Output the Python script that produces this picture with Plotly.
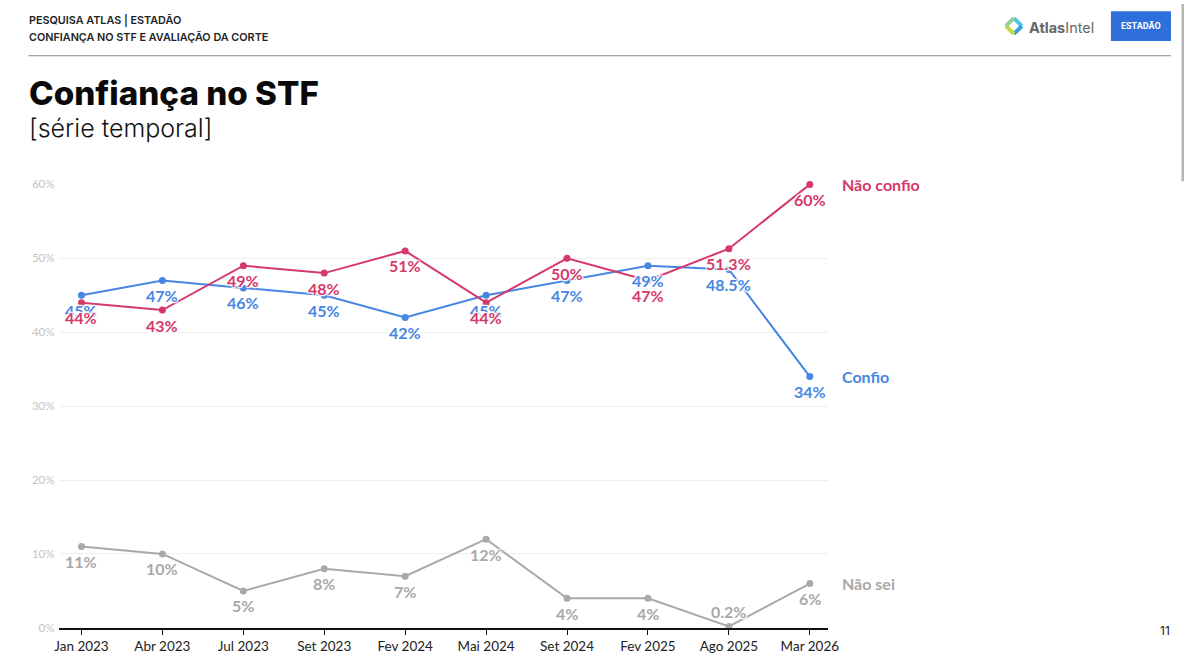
import plotly.graph_objects as go

# Figure size (page keeps an 8px body margin)
OFF = 8
W, H = 1200 - 2 * OFF, 670 - 2 * OFF
# empirical correction of the photographed page
SC, SHX, SHY = 0.982, 3.0, -1.7
AX, BX = 1.0041, -6.33
AY, BY = 0.99135, 0.476
AY2, BY2 = 0.9933, -0.76

categories = ["Jan 2023", "Abr 2023", "Jul 2023", "Set 2023", "Fev 2024",
              "Mai 2024", "Set 2024", "Fev 2025", "Ago 2025", "Mar 2026"]
confio = [45, 47, 46, 45, 42, 45, 47, 49, 48.5, 34]
nao_confio = [44, 43, 49, 48, 51, 44, 50, 47, 51.3, 60]
nao_sei = [11, 10, 5, 8, 7, 12, 4, 4, 0.2, 6]

confio_labels = ["45%", "47%", "46%", "45%", "42%", "45%", "47%", "49%", "48.5%", "34%"]
nao_confio_labels = ["44%", "43%", "49%", "48%", "51%", "44%", "50%", "47%", "51.3%", "60%"]
nao_sei_labels = ["11%", "10%", "5%", "8%", "7%", "12%", "4%", "4%", "0.2%", "6%"]
# +1: label above the point, -1: below
nao_sei_side = [-1] * 8 + [1, -1]
confio_side = [-1] * 10
nao_confio_side = [-1] * 10

RED = "#d5386a"
BLUE = "#4786e3"
GRAY = "#a9a9a9"

LABEL_FONT = "Lato, 'Source Sans Pro', sans-serif"
HALO = "1px 1px 1px #fff, -1px -1px 1px #fff, 1px -1px 1px #fff, -1px 1px 1px #fff, 0 0 3px #fff"
LABEL_GAP = 15


def old_fx(d):
    page = (d - SHX) / SC
    return (page - OFF) / W


def old_fy(d):
    page = (d - SHY) / SC
    return 1 - (page - OFF) / H


def fx(d):
    """desired displayed x pixel -> paper fraction"""
    return old_fx((d - BX) / AX)


def fy(d):
    return old_fy(((d - BY2) / AY2 - BY) / AY)


# plot area targets (displayed pixels)
PX_L, PX_R = 59, 827
PY_T, PY_B = 185, 633
JAN_X, MAR_X = 81, 809
unit = (MAR_X - JAN_X) / 9.0
x_range = [(PX_L - JAN_X) / unit, 9 + (PX_R - MAR_X) / unit]

fig = go.Figure()


def add_series(values, color, name):
    fig.add_trace(go.Scatter(
        x=categories, y=values, mode="lines+markers", name=name,
        line=dict(color=color, width=2),
        marker=dict(color=color, size=7),
        cliponaxis=False, showlegend=False, hoverinfo="skip",
    ))


def add_labels(values, labels, sides, color):
    for cat, val, lab, side in zip(categories, values, labels, sides):
        fig.add_annotation(x=cat, y=val, xref="x", yref="y", text=lab, showarrow=False,
                           xanchor="center", yanchor="middle", yshift=side * LABEL_GAP,
                           font=dict(color=color, size=16, family=LABEL_FONT, weight=700,
                                     shadow=HALO))


add_series(nao_sei, GRAY, "Não sei")
add_series(confio, BLUE, "Confio")
add_series(nao_confio, RED, "Não confio")

add_labels(nao_sei, nao_sei_labels, nao_sei_side, GRAY)
add_labels(confio, confio_labels, confio_side, BLUE)
add_labels(nao_confio, nao_confio_labels, nao_confio_side, RED)

# series names at right end
for name, val, color in [("Não confio", nao_confio[-1], RED),
                         ("Confio", confio[-1], BLUE),
                         ("Não sei", nao_sei[-1], GRAY)]:
    fig.add_annotation(x=categories[-1], y=val, xref="x", yref="y", text=name,
                       showarrow=False, xanchor="left", yanchor="middle", xshift=30,
                       font=dict(color=color, size=16, family=LABEL_FONT, weight=700))

# header texts
fig.add_annotation(x=fx(26.5), y=fy(19), xref="paper", yref="paper", text="PESQUISA ATLAS | ESTADÃO",
                   showarrow=False, xanchor="left", yanchor="middle",
                   font=dict(size=10.8, color="#222", family="Inter, sans-serif", weight=600))
fig.add_annotation(x=fx(26.5), y=fy(36), xref="paper", yref="paper",
                   text="CONFIANÇA NO STF E AVALIAÇÃO DA CORTE",
                   showarrow=False, xanchor="left", yanchor="middle",
                   font=dict(size=10.8, color="#222", family="Inter, sans-serif", weight=600))
fig.add_annotation(x=fx(27), y=fy(93), xref="paper", yref="paper", text="Confiança no STF",
                   showarrow=False, xanchor="left", yanchor="middle",
                   font=dict(size=33.2, color="#0a0a0a", family="Inter, sans-serif", weight=800))
fig.add_annotation(x=fx(26.5), y=fy(128), xref="paper", yref="paper", text="[série temporal]",
                   showarrow=False, xanchor="left", yanchor="middle",
                   font=dict(size=25, color="#111", family="Inter, sans-serif", weight=300))
fig.add_annotation(x=fx(1171), y=fy(636), xref="paper", yref="paper", text="11",
                   showarrow=False, xanchor="right", yanchor="middle",
                   font=dict(size=12, color="#222", family="Inter, sans-serif"))

# AtlasIntel logo text
fig.add_annotation(x=fx(1026), y=fy(26), xref="paper", yref="paper",
                   text="<b>Atlas</b>Intel", showarrow=False, xanchor="left", yanchor="middle",
                   font=dict(size=14.5, color="#666", family="Inter, sans-serif"))
# Estadao box text
fig.add_annotation(x=fx(1140), y=fy(25), xref="paper", yref="paper",
                   text="<b>ESTADÃO</b>", showarrow=False, xanchor="center", yanchor="middle",
                   font=dict(size=9, color="#fff", family="Roboto, sans-serif"))

shapes = []
# header rule
shapes.append(dict(type="line", xref="paper", yref="paper", x0=fx(28), x1=fx(1170), y0=fy(55), y1=fy(55),
                   line=dict(color="#888", width=1)))
# Estadao box
shapes.append(dict(type="rect", xref="paper", yref="paper", x0=fx(1110), x1=fx(1170), y0=fy(10), y1=fy(40),
                   fillcolor="#2f6fdc", line=dict(width=0), layer="below"))
# Atlas logo diamond (colored segments)
cx, cy, r = 1013, 25, 8
pts = [(cx, cy - r), (cx + r, cy), (cx, cy + r), (cx - r, cy)]
cols = ["#4fc3e8", "#3aa0d8", "#c9d94a", "#8fd19e"]
for i in range(4):
    a = pts[i]
    b = pts[(i + 1) % 4]
    shapes.append(dict(type="line", xref="paper", yref="paper", x0=fx(a[0]), y0=fy(a[1]),
                       x1=fx(b[0]), y1=fy(b[1]), line=dict(color=cols[i], width=4)))
# scrollbar thumb (kept at the same page extent as before)
shapes.append(dict(type="rect", xref="paper", yref="paper", x0=old_fx(1182), x1=old_fx(1191),
                   y0=old_fy(3), y1=old_fy(185),
                   fillcolor="#b5b5b5", line=dict(width=0)))

fig.update_layout(
    width=W, height=H,
    margin=dict(l=0, r=0, t=0, b=0),
    paper_bgcolor="white", plot_bgcolor="white",
    shapes=shapes,
    xaxis=dict(
        domain=[fx(PX_L), fx(PX_R)],
        type="category", categoryorder="array", categoryarray=categories,
        range=x_range,
        showgrid=False, showline=True, linecolor="#111", linewidth=2,
        ticks="outside", ticklen=5, tickcolor="#111", tickwidth=1,
        tickfont=dict(size=13.5, color="#222", family=LABEL_FONT),
        zeroline=False, fixedrange=True,
    ),
    yaxis=dict(
        domain=[fy(PY_B), fy(PY_T)],
        range=[0, 60],
        tickvals=[0, 10, 20, 30, 40, 50, 60],
        ticktext=["0%", "10%", "20%", "30%", "40%", "50%", "60%"],
        showgrid=True, gridcolor="#efefef", gridwidth=1,
        zeroline=False, showline=False, ticks="",
        tickfont=dict(size=11.5, color="#c4c4c4", family=LABEL_FONT),
        ticklabelstandoff=4, fixedrange=True,
    ),
)

fig.write_html("out.html")
